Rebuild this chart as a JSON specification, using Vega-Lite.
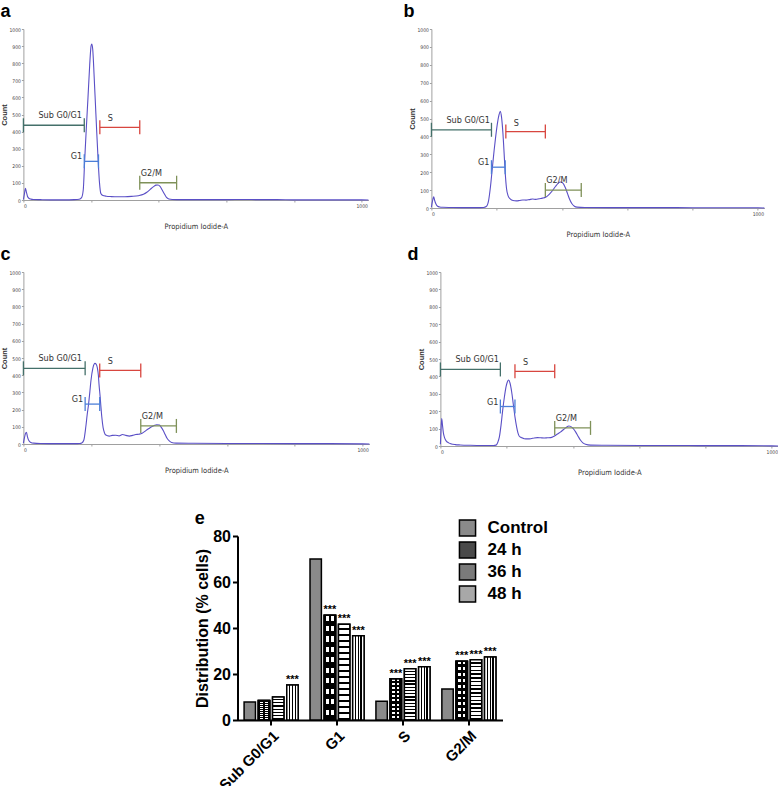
{
  "$schema": "https://vega.github.io/schema/vega-lite/v6.json",
  "background": "white",
  "padding": {"left": 0, "top": 3, "right": 0, "bottom": 0},
  "datasets": {
    "ca": [{"x":0,"count":3},{"x":3,"count":35},{"x":6,"count":68},{"x":9,"count":45},{"x":12,"count":22},{"x":16,"count":10},{"x":22,"count":5},{"x":30,"count":3},{"x":50,"count":2},{"x":80,"count":1},{"x":120,"count":1},{"x":150,"count":2},{"x":165,"count":4},{"x":172,"count":14},{"x":177,"count":60},{"x":181,"count":226},{"x":186,"count":420},{"x":191,"count":600},{"x":196,"count":790},{"x":200,"count":900},{"x":202,"count":912},{"x":205,"count":880},{"x":209,"count":730},{"x":213,"count":560},{"x":217,"count":390},{"x":221,"count":230},{"x":225,"count":100},{"x":229,"count":38},{"x":235,"count":26},{"x":245,"count":22},{"x":260,"count":20},{"x":280,"count":19},{"x":300,"count":19},{"x":320,"count":21},{"x":340,"count":25},{"x":355,"count":33},{"x":365,"count":45},{"x":375,"count":62},{"x":385,"count":78},{"x":392,"count":87},{"x":398,"count":88},{"x":404,"count":80},{"x":410,"count":60},{"x":417,"count":35},{"x":423,"count":15},{"x":430,"count":6},{"x":440,"count":3},{"x":470,"count":2},{"x":550,"count":2},{"x":600,"count":2},{"x":650,"count":3},{"x":700,"count":2},{"x":750,"count":2},{"x":800,"count":1},{"x":900,"count":1},{"x":1000,"count":1},{"x":1020,"count":0}],
    "cb": [{"x":0,"count":4},{"x":3,"count":35},{"x":7,"count":62},{"x":10,"count":42},{"x":14,"count":22},{"x":19,"count":10},{"x":25,"count":6},{"x":35,"count":4},{"x":60,"count":3},{"x":100,"count":2},{"x":140,"count":2},{"x":160,"count":3},{"x":168,"count":8},{"x":175,"count":40},{"x":181,"count":120},{"x":187,"count":230},{"x":192,"count":320},{"x":197,"count":400},{"x":202,"count":470},{"x":207,"count":520},{"x":211,"count":540},{"x":215,"count":505},{"x":219,"count":420},{"x":222,"count":330},{"x":226,"count":200},{"x":230,"count":110},{"x":235,"count":68},{"x":242,"count":50},{"x":250,"count":42},{"x":260,"count":40},{"x":270,"count":42},{"x":280,"count":45},{"x":290,"count":44},{"x":300,"count":47},{"x":310,"count":50},{"x":320,"count":48},{"x":330,"count":52},{"x":340,"count":55},{"x":350,"count":60},{"x":360,"count":75},{"x":370,"count":95},{"x":380,"count":120},{"x":388,"count":138},{"x":395,"count":145},{"x":402,"count":140},{"x":410,"count":115},{"x":417,"count":80},{"x":423,"count":50},{"x":430,"count":25},{"x":438,"count":10},{"x":446,"count":5},{"x":470,"count":3},{"x":550,"count":2},{"x":650,"count":2},{"x":750,"count":2},{"x":850,"count":1},{"x":1000,"count":1},{"x":1020,"count":0}],
    "cc": [{"x":0,"count":5},{"x":3,"count":35},{"x":6,"count":60},{"x":9,"count":68},{"x":12,"count":42},{"x":16,"count":20},{"x":22,"count":9},{"x":30,"count":5},{"x":50,"count":3},{"x":100,"count":2},{"x":150,"count":2},{"x":166,"count":3},{"x":172,"count":6},{"x":178,"count":22},{"x":184,"count":100},{"x":188,"count":170},{"x":192,"count":230},{"x":196,"count":305},{"x":199,"count":366},{"x":205,"count":443},{"x":211,"count":469},{"x":215,"count":462},{"x":218,"count":443},{"x":221,"count":400},{"x":223,"count":345},{"x":226,"count":280},{"x":228,"count":230},{"x":231,"count":160},{"x":235,"count":95},{"x":239,"count":65},{"x":243,"count":52},{"x":253,"count":46},{"x":262,"count":50},{"x":272,"count":51},{"x":282,"count":47},{"x":292,"count":55},{"x":302,"count":50},{"x":312,"count":46},{"x":322,"count":50},{"x":331,"count":55},{"x":340,"count":57},{"x":350,"count":62},{"x":361,"count":78},{"x":370,"count":90},{"x":378,"count":100},{"x":386,"count":108},{"x":393,"count":112},{"x":401,"count":110},{"x":407,"count":95},{"x":413,"count":75},{"x":418,"count":55},{"x":423,"count":35},{"x":430,"count":18},{"x":437,"count":9},{"x":450,"count":5},{"x":500,"count":4},{"x":600,"count":3},{"x":700,"count":3},{"x":800,"count":2},{"x":900,"count":2},{"x":1000,"count":1},{"x":1020,"count":0}],
    "cd": [{"x":0,"count":10},{"x":2,"count":100},{"x":4,"count":158},{"x":6,"count":125},{"x":9,"count":75},{"x":13,"count":45},{"x":18,"count":28},{"x":25,"count":18},{"x":33,"count":12},{"x":45,"count":8},{"x":60,"count":6},{"x":90,"count":4},{"x":130,"count":3},{"x":160,"count":3},{"x":168,"count":5},{"x":173,"count":20},{"x":178,"count":52},{"x":183,"count":120},{"x":188,"count":206},{"x":193,"count":280},{"x":198,"count":340},{"x":202,"count":368},{"x":206,"count":379},{"x":210,"count":362},{"x":215,"count":312},{"x":220,"count":240},{"x":225,"count":167},{"x":230,"count":110},{"x":234,"count":75},{"x":238,"count":56},{"x":245,"count":48},{"x":253,"count":42},{"x":263,"count":41},{"x":273,"count":42},{"x":283,"count":46},{"x":293,"count":48},{"x":303,"count":47},{"x":313,"count":46},{"x":323,"count":47},{"x":333,"count":48},{"x":341,"count":54},{"x":348,"count":62},{"x":356,"count":72},{"x":363,"count":81},{"x":370,"count":92},{"x":378,"count":104},{"x":388,"count":115},{"x":398,"count":106},{"x":403,"count":95},{"x":408,"count":81},{"x":415,"count":58},{"x":423,"count":33},{"x":430,"count":18},{"x":438,"count":10},{"x":453,"count":5},{"x":500,"count":4},{"x":600,"count":3},{"x":700,"count":3},{"x":800,"count":2},{"x":900,"count":2},{"x":1000,"count":1},{"x":1020,"count":0}],
    "ga": [{"gate":"Sub G0/G1","x1":0,"x2":180,"y":437},{"gate":"S","x1":226,"x2":344,"y":425},{"gate":"G1","x1":180,"x2":222,"y":226},{"gate":"G2/M","x1":344,"x2":453,"y":101}],
    "gb": [{"gate":"Sub G0/G1","x1":0,"x2":184,"y":437},{"gate":"S","x1":228,"x2":349,"y":427},{"gate":"G1","x1":184,"x2":226,"y":228},{"gate":"G2/M","x1":349,"x2":459,"y":100}],
    "gc": [{"gate":"Sub G0/G1","x1":0,"x2":182,"y":440},{"gate":"S","x1":225,"x2":346,"y":428},{"gate":"G1","x1":182,"x2":225,"y":232},{"gate":"G2/M","x1":346,"x2":451,"y":105}],
    "gd": [{"gate":"Sub G0/G1","x1":0,"x2":181,"y":440},{"gate":"S","x1":225,"x2":345,"y":429},{"gate":"G1","x1":181,"x2":225,"y":227},{"gate":"G2/M","x1":345,"x2":453,"y":104}],
    "dist": [
      {"phase":"Sub G0/G1","time":"Control","value":7.8,"sig":null},
      {"phase":"Sub G0/G1","time":"24 h","value":8.5,"sig":null},
      {"phase":"Sub G0/G1","time":"36 h","value":10.0,"sig":null},
      {"phase":"Sub G0/G1","time":"48 h","value":15.2,"sig":"***"},
      {"phase":"G1","time":"Control","value":70.0,"sig":null},
      {"phase":"G1","time":"24 h","value":45.5,"sig":"***"},
      {"phase":"G1","time":"36 h","value":41.6,"sig":"***"},
      {"phase":"G1","time":"48 h","value":36.6,"sig":"***"},
      {"phase":"S","time":"Control","value":8.2,"sig":null},
      {"phase":"S","time":"24 h","value":17.9,"sig":"***"},
      {"phase":"S","time":"36 h","value":22.3,"sig":"***"},
      {"phase":"S","time":"48 h","value":23.1,"sig":"***"},
      {"phase":"G2/M","time":"Control","value":13.5,"sig":null},
      {"phase":"G2/M","time":"24 h","value":25.5,"sig":"***"},
      {"phase":"G2/M","time":"36 h","value":26.2,"sig":"***"},
      {"phase":"G2/M","time":"48 h","value":27.4,"sig":"***"}
    ]
  },
  "vconcat": [
    {
      "vconcat": [
        {
          "hconcat": [
            {
              "width": 345, "height": 171,
              "title": {"text": "a"},
              "encoding": {
                "y": {"field": "y", "type": "quantitative", "scale": {"domain": [0, 1000], "nice": false}, "axis": {"title": "Count", "format": "d", "values": [0,100,200,300,400,500,600,700,800,900,1000]}}
              },
              "layer": [
                {"data": {"name": "ca"}, "mark": {"type": "line", "color": "#5a4fc6", "strokeWidth": 1.1, "interpolate": "monotone"},
                 "encoding": {
                   "x": {"field": "x", "type": "quantitative", "scale": {"domain": [0, 1020], "nice": false}, "axis": {"title": "Propidium Iodide-A", "format": "d", "values": [0,100,200,300,400,500,600,700,800,900,1000], "labelExpr": "datum.value % 500 === 0 ? datum.label : ''"}},
                   "y": {"field": "count", "type": "quantitative", "scale": {"domain": [0, 1000], "nice": false}, "axis": {"title": "Count", "format": "d", "values": [0,100,200,300,400,500,600,700,800,900,1000]}}}},
                {"data": {"name": "ga"}, "mark": {"type": "rule", "strokeWidth": 1.3},
                 "encoding": {"x": {"field": "x1", "type": "quantitative"}, "x2": {"field": "x2"},
                   "color": {"field": "gate", "type": "nominal", "scale": {"domain": ["Sub G0/G1","S","G1","G2/M"], "range": ["#44706a","#d8463f","#4c7fd8","#7f9159"]}, "legend": null}}},
                {"data": {"name": "ga"}, "mark": {"type": "tick", "orient": "vertical", "size": 14, "thickness": 1.3, "opacity": 1},
                 "encoding": {"x": {"field": "x1", "type": "quantitative"}, "color": {"field": "gate", "type": "nominal", "legend": null}}},
                {"data": {"name": "ga"}, "mark": {"type": "tick", "orient": "vertical", "size": 14, "thickness": 1.3, "opacity": 1},
                 "encoding": {"x": {"field": "x2", "type": "quantitative"}, "color": {"field": "gate", "type": "nominal", "legend": null}}},
                {"data": {"name": "ga"}, "transform": [{"filter": "datum.gate === 'Sub G0/G1'"}], "mark": {"type": "text", "align": "left", "baseline": "middle", "dx": 15, "dy": -10, "font": "Liberation Sans Narrow, DejaVu Sans Condensed, sans-serif", "fontSize": 9, "color": "#333"},
                 "encoding": {"x": {"field": "x1", "type": "quantitative"}, "text": {"field": "gate"}}},
                {"data": {"name": "ga"}, "transform": [{"filter": "datum.gate === 'S'"}], "mark": {"type": "text", "align": "left", "baseline": "middle", "dx": 8, "dy": -9, "font": "Liberation Sans Narrow, DejaVu Sans Condensed, sans-serif", "fontSize": 9, "color": "#333"},
                 "encoding": {"x": {"field": "x1", "type": "quantitative"}, "text": {"field": "gate"}}},
                {"data": {"name": "ga"}, "transform": [{"filter": "datum.gate === 'G1'"}], "mark": {"type": "text", "align": "right", "baseline": "middle", "dx": -2, "dy": -5, "font": "Liberation Sans Narrow, DejaVu Sans Condensed, sans-serif", "fontSize": 9, "color": "#333"},
                 "encoding": {"x": {"field": "x1", "type": "quantitative"}, "text": {"field": "gate"}}},
                {"data": {"name": "ga"}, "transform": [{"filter": "datum.gate === 'G2/M'"}], "mark": {"type": "text", "align": "left", "baseline": "middle", "dx": 1, "dy": -10, "font": "Liberation Sans Narrow, DejaVu Sans Condensed, sans-serif", "fontSize": 9, "color": "#333"},
                 "encoding": {"x": {"field": "x1", "type": "quantitative"}, "text": {"field": "gate"}}}
              ]
            },
            {
              "width": 333, "height": 179,
              "title": {"text": "b", "dx": -5},
              "encoding": {
                "y": {"field": "y", "type": "quantitative", "scale": {"domain": [0, 1000], "nice": false}, "axis": {"title": "Count", "format": "d", "values": [0,100,200,300,400,500,600,700,800,900,1000]}}
              },
              "layer": [
                {"data": {"name": "cb"}, "mark": {"type": "line", "color": "#5a4fc6", "strokeWidth": 1.1, "interpolate": "monotone"},
                 "encoding": {
                   "x": {"field": "x", "type": "quantitative", "scale": {"domain": [0, 1020], "nice": false}, "axis": {"title": "Propidium Iodide-A", "format": "d", "values": [0,100,200,300,400,500,600,700,800,900,1000], "labelExpr": "datum.value % 500 === 0 ? datum.label : ''"}},
                   "y": {"field": "count", "type": "quantitative", "scale": {"domain": [0, 1000], "nice": false}, "axis": {"title": "Count", "format": "d", "values": [0,100,200,300,400,500,600,700,800,900,1000]}}}},
                {"data": {"name": "gb"}, "mark": {"type": "rule", "strokeWidth": 1.3},
                 "encoding": {"x": {"field": "x1", "type": "quantitative"}, "x2": {"field": "x2"},
                   "color": {"field": "gate", "type": "nominal", "scale": {"domain": ["Sub G0/G1","S","G1","G2/M"], "range": ["#44706a","#d8463f","#4c7fd8","#7f9159"]}, "legend": null}}},
                {"data": {"name": "gb"}, "mark": {"type": "tick", "orient": "vertical", "size": 14, "thickness": 1.3, "opacity": 1},
                 "encoding": {"x": {"field": "x1", "type": "quantitative"}, "color": {"field": "gate", "type": "nominal", "legend": null}}},
                {"data": {"name": "gb"}, "mark": {"type": "tick", "orient": "vertical", "size": 14, "thickness": 1.3, "opacity": 1},
                 "encoding": {"x": {"field": "x2", "type": "quantitative"}, "color": {"field": "gate", "type": "nominal", "legend": null}}},
                {"data": {"name": "gb"}, "transform": [{"filter": "datum.gate === 'Sub G0/G1'"}], "mark": {"type": "text", "align": "left", "baseline": "middle", "dx": 15, "dy": -10, "font": "Liberation Sans Narrow, DejaVu Sans Condensed, sans-serif", "fontSize": 9, "color": "#333"},
                 "encoding": {"x": {"field": "x1", "type": "quantitative"}, "text": {"field": "gate"}}},
                {"data": {"name": "gb"}, "transform": [{"filter": "datum.gate === 'S'"}], "mark": {"type": "text", "align": "left", "baseline": "middle", "dx": 8, "dy": -9, "font": "Liberation Sans Narrow, DejaVu Sans Condensed, sans-serif", "fontSize": 9, "color": "#333"},
                 "encoding": {"x": {"field": "x1", "type": "quantitative"}, "text": {"field": "gate"}}},
                {"data": {"name": "gb"}, "transform": [{"filter": "datum.gate === 'G1'"}], "mark": {"type": "text", "align": "right", "baseline": "middle", "dx": -2, "dy": -5, "font": "Liberation Sans Narrow, DejaVu Sans Condensed, sans-serif", "fontSize": 9, "color": "#333"},
                 "encoding": {"x": {"field": "x1", "type": "quantitative"}, "text": {"field": "gate"}}},
                {"data": {"name": "gb"}, "transform": [{"filter": "datum.gate === 'G2/M'"}], "mark": {"type": "text", "align": "left", "baseline": "middle", "dx": 1, "dy": -10, "font": "Liberation Sans Narrow, DejaVu Sans Condensed, sans-serif", "fontSize": 9, "color": "#333"},
                 "encoding": {"x": {"field": "x1", "type": "quantitative"}, "text": {"field": "gate"}}}
              ]
            }
          ],
          "spacing": 32,
          "resolve": {"scale": {"x": "independent", "y": "independent", "color": "independent"}}
        },
        {
          "hconcat": [
            {
              "width": 346, "height": 172,
              "title": {"text": "c"},
              "encoding": {
                "y": {"field": "y", "type": "quantitative", "scale": {"domain": [0, 1000], "nice": false}, "axis": {"title": "Count", "format": "d", "values": [0,100,200,300,400,500,600,700,800,900,1000]}}
              },
              "layer": [
                {"data": {"name": "cc"}, "mark": {"type": "line", "color": "#5a4fc6", "strokeWidth": 1.1, "interpolate": "monotone"},
                 "encoding": {
                   "x": {"field": "x", "type": "quantitative", "scale": {"domain": [0, 1020], "nice": false}, "axis": {"title": "Propidium Iodide-A", "format": "d", "values": [0,100,200,300,400,500,600,700,800,900,1000], "labelExpr": "datum.value % 500 === 0 ? datum.label : ''"}},
                   "y": {"field": "count", "type": "quantitative", "scale": {"domain": [0, 1000], "nice": false}, "axis": {"title": "Count", "format": "d", "values": [0,100,200,300,400,500,600,700,800,900,1000]}}}},
                {"data": {"name": "gc"}, "mark": {"type": "rule", "strokeWidth": 1.3},
                 "encoding": {"x": {"field": "x1", "type": "quantitative"}, "x2": {"field": "x2"},
                   "color": {"field": "gate", "type": "nominal", "scale": {"domain": ["Sub G0/G1","S","G1","G2/M"], "range": ["#44706a","#d8463f","#4c7fd8","#7f9159"]}, "legend": null}}},
                {"data": {"name": "gc"}, "mark": {"type": "tick", "orient": "vertical", "size": 14, "thickness": 1.3, "opacity": 1},
                 "encoding": {"x": {"field": "x1", "type": "quantitative"}, "color": {"field": "gate", "type": "nominal", "legend": null}}},
                {"data": {"name": "gc"}, "mark": {"type": "tick", "orient": "vertical", "size": 14, "thickness": 1.3, "opacity": 1},
                 "encoding": {"x": {"field": "x2", "type": "quantitative"}, "color": {"field": "gate", "type": "nominal", "legend": null}}},
                {"data": {"name": "gc"}, "transform": [{"filter": "datum.gate === 'Sub G0/G1'"}], "mark": {"type": "text", "align": "left", "baseline": "middle", "dx": 15, "dy": -10, "font": "Liberation Sans Narrow, DejaVu Sans Condensed, sans-serif", "fontSize": 9, "color": "#333"},
                 "encoding": {"x": {"field": "x1", "type": "quantitative"}, "text": {"field": "gate"}}},
                {"data": {"name": "gc"}, "transform": [{"filter": "datum.gate === 'S'"}], "mark": {"type": "text", "align": "left", "baseline": "middle", "dx": 8, "dy": -9, "font": "Liberation Sans Narrow, DejaVu Sans Condensed, sans-serif", "fontSize": 9, "color": "#333"},
                 "encoding": {"x": {"field": "x1", "type": "quantitative"}, "text": {"field": "gate"}}},
                {"data": {"name": "gc"}, "transform": [{"filter": "datum.gate === 'G1'"}], "mark": {"type": "text", "align": "right", "baseline": "middle", "dx": -2, "dy": -5, "font": "Liberation Sans Narrow, DejaVu Sans Condensed, sans-serif", "fontSize": 9, "color": "#333"},
                 "encoding": {"x": {"field": "x1", "type": "quantitative"}, "text": {"field": "gate"}}},
                {"data": {"name": "gc"}, "transform": [{"filter": "datum.gate === 'G2/M'"}], "mark": {"type": "text", "align": "left", "baseline": "middle", "dx": 1, "dy": -10, "font": "Liberation Sans Narrow, DejaVu Sans Condensed, sans-serif", "fontSize": 9, "color": "#333"},
                 "encoding": {"x": {"field": "x1", "type": "quantitative"}, "text": {"field": "gate"}}}
              ]
            },
            {
              "width": 338, "height": 174,
              "title": {"text": "d", "dx": -10},
              "encoding": {
                "y": {"field": "y", "type": "quantitative", "scale": {"domain": [0, 1000], "nice": false}, "axis": {"title": "Count", "format": "d", "values": [0,100,200,300,400,500,600,700,800,900,1000]}}
              },
              "layer": [
                {"data": {"name": "cd"}, "mark": {"type": "line", "color": "#5a4fc6", "strokeWidth": 1.1, "interpolate": "monotone"},
                 "encoding": {
                   "x": {"field": "x", "type": "quantitative", "scale": {"domain": [0, 1020], "nice": false}, "axis": {"title": "Propidium Iodide-A", "format": "d", "values": [0,100,200,300,400,500,600,700,800,900,1000], "labelExpr": "datum.value % 500 === 0 ? datum.label : ''"}},
                   "y": {"field": "count", "type": "quantitative", "scale": {"domain": [0, 1000], "nice": false}, "axis": {"title": "Count", "format": "d", "values": [0,100,200,300,400,500,600,700,800,900,1000]}}}},
                {"data": {"name": "gd"}, "mark": {"type": "rule", "strokeWidth": 1.3},
                 "encoding": {"x": {"field": "x1", "type": "quantitative"}, "x2": {"field": "x2"},
                   "color": {"field": "gate", "type": "nominal", "scale": {"domain": ["Sub G0/G1","S","G1","G2/M"], "range": ["#44706a","#d8463f","#4c7fd8","#7f9159"]}, "legend": null}}},
                {"data": {"name": "gd"}, "mark": {"type": "tick", "orient": "vertical", "size": 14, "thickness": 1.3, "opacity": 1},
                 "encoding": {"x": {"field": "x1", "type": "quantitative"}, "color": {"field": "gate", "type": "nominal", "legend": null}}},
                {"data": {"name": "gd"}, "mark": {"type": "tick", "orient": "vertical", "size": 14, "thickness": 1.3, "opacity": 1},
                 "encoding": {"x": {"field": "x2", "type": "quantitative"}, "color": {"field": "gate", "type": "nominal", "legend": null}}},
                {"data": {"name": "gd"}, "transform": [{"filter": "datum.gate === 'Sub G0/G1'"}], "mark": {"type": "text", "align": "left", "baseline": "middle", "dx": 15, "dy": -10, "font": "Liberation Sans Narrow, DejaVu Sans Condensed, sans-serif", "fontSize": 9, "color": "#333"},
                 "encoding": {"x": {"field": "x1", "type": "quantitative"}, "text": {"field": "gate"}}},
                {"data": {"name": "gd"}, "transform": [{"filter": "datum.gate === 'S'"}], "mark": {"type": "text", "align": "left", "baseline": "middle", "dx": 8, "dy": -9, "font": "Liberation Sans Narrow, DejaVu Sans Condensed, sans-serif", "fontSize": 9, "color": "#333"},
                 "encoding": {"x": {"field": "x1", "type": "quantitative"}, "text": {"field": "gate"}}},
                {"data": {"name": "gd"}, "transform": [{"filter": "datum.gate === 'G1'"}], "mark": {"type": "text", "align": "right", "baseline": "middle", "dx": -2, "dy": -5, "font": "Liberation Sans Narrow, DejaVu Sans Condensed, sans-serif", "fontSize": 9, "color": "#333"},
                 "encoding": {"x": {"field": "x1", "type": "quantitative"}, "text": {"field": "gate"}}},
                {"data": {"name": "gd"}, "transform": [{"filter": "datum.gate === 'G2/M'"}], "mark": {"type": "text", "align": "left", "baseline": "middle", "dx": 1, "dy": -10, "font": "Liberation Sans Narrow, DejaVu Sans Condensed, sans-serif", "fontSize": 9, "color": "#333"},
                 "encoding": {"x": {"field": "x1", "type": "quantitative"}, "text": {"field": "gate"}}}
              ]
            }
          ],
          "spacing": 35,
          "resolve": {"scale": {"x": "independent", "y": "independent", "color": "independent"}}
        }
      ],
      "spacing": 8,
      "resolve": {"scale": {"x": "independent", "y": "independent", "color": "independent"}}
    },
    {
      "width": 265, "height": 184,
      "title": {"text": "e", "offset": -26.5},
      "data": {"name": "dist"},
      "encoding": {
        "x": {"field": "phase", "type": "nominal", "scale": {"domain": ["Sub G0/G1","G1","S","G2/M"], "paddingInner": 0.18, "paddingOuter": 0.1},
              "axis": {"title": null, "labelAngle": -45, "labelFont": "Liberation Sans", "labelFontSize": 15, "labelFontWeight": "bold", "labelColor": "black", "domainColor": "black", "domainWidth": 2, "tickColor": "black", "tickWidth": 2, "tickSize": 5, "labelPadding": 3}},
        "xOffset": {"field": "time", "type": "nominal", "scale": {"domain": ["Control","24 h","36 h","48 h"], "paddingInner": 0.2}},
        "y": {"field": "value", "type": "quantitative", "scale": {"domain": [0, 80], "nice": false},
              "axis": {"title": "Distribution (% cells)", "values": [0,20,40,60,80], "format": "d", "titleFont": "Liberation Sans", "titleFontSize": 16, "titleFontWeight": "bold", "titleColor": "black", "titlePadding": 2, "labelFont": "Liberation Sans", "labelFontSize": 16, "labelFontWeight": "bold", "labelColor": "black", "domainColor": "black", "domainWidth": 2, "tickColor": "black", "tickWidth": 2, "tickSize": 5, "labelPadding": 2}}
      },
      "layer": [
        {"mark": {"type": "bar", "stroke": "black", "strokeWidth": 1.5},
         "encoding": {
           "fill": {"field": "time", "type": "nominal",
                    "scale": {"domain": ["Control","24 h","36 h","48 h"], "range": ["#8a8a8a", "#4a4a4a", "#7a7a7a", "#a8a8a8"]},
                    "legend": {"orient": "none", "legendX": 203, "legendY": -35, "padding": 18, "title": null, "symbolType": "square", "symbolSize": 260, "symbolStrokeColor": "black", "symbolStrokeWidth": 1.5, "symbolOpacity": 1, "labelFont": "Liberation Sans", "labelFontSize": 17, "labelFontWeight": "bold", "labelColor": "black", "labelOffset": 11, "rowPadding": -2}}
         }},
        {"transform": [{"filter": "datum.time === '24 h'"}],
         "mark": {"type": "bar", "stroke": "black", "strokeWidth": 1.5,
                  "fill": {"gradient": "linear", "x1": 0, "y1": 0, "x2": 1, "y2": 0, "stops": [
                    {"offset": 0, "color": "black"}, {"offset": 0.18, "color": "black"}, {"offset": 0.18, "color": "white"}, {"offset": 0.42, "color": "white"},
                    {"offset": 0.42, "color": "black"}, {"offset": 0.58, "color": "black"}, {"offset": 0.58, "color": "white"}, {"offset": 0.82, "color": "white"},
                    {"offset": 0.82, "color": "black"}, {"offset": 1, "color": "black"}]}}},
        {"transform": [{"filter": "datum.time === '24 h'"}],
         "mark": {"type": "bar", "stroke": "black", "strokeWidth": 1.5,
                  "fill": {"gradient": "linear", "x1": 0, "y1": 0, "x2": 0, "y2": 1, "stops": [
                    {"offset": 0, "color": "rgba(0,0,0,0)"}, {"offset": 0.05, "color": "rgba(0,0,0,0)"}, {"offset": 0.05, "color": "black"}, {"offset": 0.1, "color": "black"},
                    {"offset": 0.1, "color": "rgba(0,0,0,0)"}, {"offset": 0.15, "color": "rgba(0,0,0,0)"}, {"offset": 0.15, "color": "black"}, {"offset": 0.2, "color": "black"},
                    {"offset": 0.2, "color": "rgba(0,0,0,0)"}, {"offset": 0.25, "color": "rgba(0,0,0,0)"}, {"offset": 0.25, "color": "black"}, {"offset": 0.3, "color": "black"},
                    {"offset": 0.3, "color": "rgba(0,0,0,0)"}, {"offset": 0.35, "color": "rgba(0,0,0,0)"}, {"offset": 0.35, "color": "black"}, {"offset": 0.4, "color": "black"},
                    {"offset": 0.4, "color": "rgba(0,0,0,0)"}, {"offset": 0.45, "color": "rgba(0,0,0,0)"}, {"offset": 0.45, "color": "black"}, {"offset": 0.5, "color": "black"},
                    {"offset": 0.5, "color": "rgba(0,0,0,0)"}, {"offset": 0.55, "color": "rgba(0,0,0,0)"}, {"offset": 0.55, "color": "black"}, {"offset": 0.6, "color": "black"},
                    {"offset": 0.6, "color": "rgba(0,0,0,0)"}, {"offset": 0.65, "color": "rgba(0,0,0,0)"}, {"offset": 0.65, "color": "black"}, {"offset": 0.7, "color": "black"},
                    {"offset": 0.7, "color": "rgba(0,0,0,0)"}, {"offset": 0.75, "color": "rgba(0,0,0,0)"}, {"offset": 0.75, "color": "black"}, {"offset": 0.8, "color": "black"},
                    {"offset": 0.8, "color": "rgba(0,0,0,0)"}, {"offset": 0.85, "color": "rgba(0,0,0,0)"}, {"offset": 0.85, "color": "black"}, {"offset": 0.9, "color": "black"},
                    {"offset": 0.9, "color": "rgba(0,0,0,0)"}, {"offset": 0.95, "color": "rgba(0,0,0,0)"}, {"offset": 0.95, "color": "black"}, {"offset": 1, "color": "black"}]}}},
        {"transform": [{"filter": "datum.time === '36 h'"}],
         "mark": {"type": "bar", "stroke": "black", "strokeWidth": 1.5,
                  "fill": {"gradient": "linear", "x1": 0, "y1": 0, "x2": 0, "y2": 1, "stops": [
                    {"offset": 0, "color": "white"}, {"offset": 0.0375, "color": "white"}, {"offset": 0.0375, "color": "black"}, {"offset": 0.0625, "color": "black"},
                    {"offset": 0.0625, "color": "white"}, {"offset": 0.1, "color": "white"}, {"offset": 0.1, "color": "black"}, {"offset": 0.125, "color": "black"},
                    {"offset": 0.125, "color": "white"}, {"offset": 0.1625, "color": "white"}, {"offset": 0.1625, "color": "black"}, {"offset": 0.1875, "color": "black"},
                    {"offset": 0.1875, "color": "white"}, {"offset": 0.225, "color": "white"}, {"offset": 0.225, "color": "black"}, {"offset": 0.25, "color": "black"},
                    {"offset": 0.25, "color": "white"}, {"offset": 0.2875, "color": "white"}, {"offset": 0.2875, "color": "black"}, {"offset": 0.3125, "color": "black"},
                    {"offset": 0.3125, "color": "white"}, {"offset": 0.35, "color": "white"}, {"offset": 0.35, "color": "black"}, {"offset": 0.375, "color": "black"},
                    {"offset": 0.375, "color": "white"}, {"offset": 0.4125, "color": "white"}, {"offset": 0.4125, "color": "black"}, {"offset": 0.4375, "color": "black"},
                    {"offset": 0.4375, "color": "white"}, {"offset": 0.475, "color": "white"}, {"offset": 0.475, "color": "black"}, {"offset": 0.5, "color": "black"},
                    {"offset": 0.5, "color": "white"}, {"offset": 0.5375, "color": "white"}, {"offset": 0.5375, "color": "black"}, {"offset": 0.5625, "color": "black"},
                    {"offset": 0.5625, "color": "white"}, {"offset": 0.6, "color": "white"}, {"offset": 0.6, "color": "black"}, {"offset": 0.625, "color": "black"},
                    {"offset": 0.625, "color": "white"}, {"offset": 0.6625, "color": "white"}, {"offset": 0.6625, "color": "black"}, {"offset": 0.6875, "color": "black"},
                    {"offset": 0.6875, "color": "white"}, {"offset": 0.725, "color": "white"}, {"offset": 0.725, "color": "black"}, {"offset": 0.75, "color": "black"},
                    {"offset": 0.75, "color": "white"}, {"offset": 0.7875, "color": "white"}, {"offset": 0.7875, "color": "black"}, {"offset": 0.8125, "color": "black"},
                    {"offset": 0.8125, "color": "white"}, {"offset": 0.85, "color": "white"}, {"offset": 0.85, "color": "black"}, {"offset": 0.875, "color": "black"},
                    {"offset": 0.875, "color": "white"}, {"offset": 0.9125, "color": "white"}, {"offset": 0.9125, "color": "black"}, {"offset": 0.9375, "color": "black"},
                    {"offset": 0.9375, "color": "white"}, {"offset": 0.975, "color": "white"}, {"offset": 0.975, "color": "black"}, {"offset": 1, "color": "black"}]}}},
        {"transform": [{"filter": "datum.time === '48 h'"}],
         "mark": {"type": "bar", "stroke": "black", "strokeWidth": 1.5,
                  "fill": {"gradient": "linear", "x1": 0, "y1": 0, "x2": 1, "y2": 0, "stops": [
                    {"offset": 0, "color": "white"}, {"offset": 0.2, "color": "white"}, {"offset": 0.2, "color": "black"}, {"offset": 0.32, "color": "black"},
                    {"offset": 0.32, "color": "white"}, {"offset": 0.44, "color": "white"}, {"offset": 0.44, "color": "black"}, {"offset": 0.56, "color": "black"},
                    {"offset": 0.56, "color": "white"}, {"offset": 0.68, "color": "white"}, {"offset": 0.68, "color": "black"}, {"offset": 0.8, "color": "black"},
                    {"offset": 0.8, "color": "white"}, {"offset": 1, "color": "white"}]}}},
        {"transform": [{"filter": "datum.sig"}],
         "mark": {"type": "text", "font": "Liberation Sans", "fontSize": 11, "fontWeight": "bold", "baseline": "alphabetic", "dy": -2, "color": "black"},
         "encoding": {"text": {"field": "sig"}}}
      ]
    }
  ],
  "spacing": 25,
  "center": true,
  "resolve": {"scale": {"x": "independent", "y": "independent", "color": "independent", "fill": "independent"}, "legend": {"fill": "independent"}},
  "config": {
    "view": {"stroke": null},
    "font": "Liberation Sans",
    "axis": {"grid": false, "labelFont": "Liberation Sans Narrow, DejaVu Sans Condensed, sans-serif", "labelFontSize": 5, "labelColor": "#444", "domainColor": "#a0a0a0", "tickColor": "#a0a0a0", "tickSize": 2, "labelPadding": 1, "titleFont": "Liberation Sans Narrow, DejaVu Sans Condensed, sans-serif", "titleFontSize": 7.5, "titleFontWeight": "normal", "titleColor": "#333"},
    "axisY": {"titleFont": "Liberation Sans", "titleFontWeight": "bold", "titleFontSize": 7.5, "titlePadding": 0.5},
    "axisX": {"titlePadding": 14},
    "title": {"fontSize": 18, "fontWeight": "bold", "anchor": "start", "frame": "bounds", "color": "black", "font": "Liberation Sans", "offset": 6}
  }
}
